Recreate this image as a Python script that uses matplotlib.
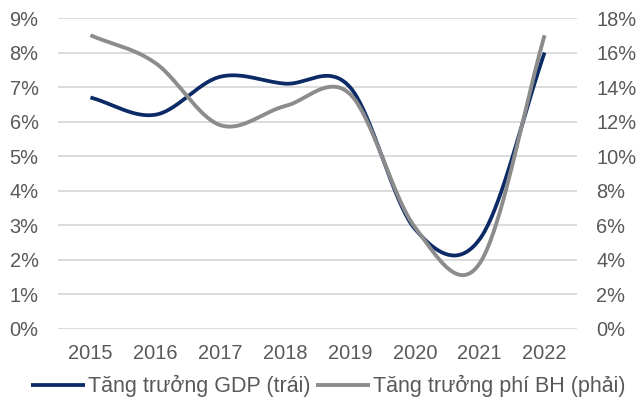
import matplotlib.pyplot as plt
import numpy as np

# Dữ liệu
nam = ['2015', '2016', '2017', '2018', '2019', '2020', '2021', '2022']
tang_truong_gdp = [6.7, 6.2, 7.3, 7.1, 7.0, 2.9, 2.6, 8.0]       # trục trái (%)
tang_truong_phi_bh = [17.0, 15.4, 11.8, 12.9, 13.6, 5.9, 3.8, 17.0]  # trục phải (%)

MAU_GDP = '#0B2A66'
MAU_BH = '#8C8C8C'
MAU_CHU = '#595959'


# Đường cong mượt kiểu Excel (Catmull-Rom) đi qua các điểm dữ liệu
def duong_muot(y, so_diem=40):
    y = np.asarray(y, dtype=float)
    n = len(y)
    m = np.empty(n)
    m[1:-1] = (y[2:] - y[:-2]) / 2
    m[0] = y[1] - y[0]
    m[-1] = y[-1] - y[-2]
    xs, ys = [], []
    t = np.linspace(0, 1, so_diem)
    h00 = 2 * t**3 - 3 * t**2 + 1
    h10 = t**3 - 2 * t**2 + t
    h01 = -2 * t**3 + 3 * t**2
    h11 = t**3 - t**2
    for i in range(n - 1):
        xs.append(i + t)
        ys.append(h00 * y[i] + h10 * m[i] + h01 * y[i + 1] + h11 * m[i + 1])
    return np.concatenate(xs), np.concatenate(ys)


plt.rcParams['font.family'] = ['Liberation Sans', 'DejaVu Sans']

fig = plt.figure(figsize=(6.4, 4.0), dpi=100)
ax = fig.add_axes([58 / 640, 1 - 329 / 400, (577 - 58) / 640, (329 - 18) / 400])
ax2 = ax.twinx()

x1, y1 = duong_muot(tang_truong_gdp)
x2, y2 = duong_muot(tang_truong_phi_bh)
l1, = ax.plot(x1, y1, color=MAU_GDP, lw=2.7, solid_capstyle='butt',
              label='Tăng trưởng GDP (trái)')
l2, = ax2.plot(x2, y2, color=MAU_BH, lw=2.8, solid_capstyle='butt',
               label='Tăng trưởng phí BH (phải)')

ax.set_xlim(-0.5, len(nam) - 0.5)
ax.set_ylim(0, 9)
ax2.set_ylim(0, 18)
ax.set_xticks(range(len(nam)))
ax.set_xticklabels(nam)
ax.set_yticks(range(0, 10))
ax.set_yticklabels([f'{v}%' for v in range(0, 10)])
ax2.set_yticks(range(0, 19, 2))
ax2.set_yticklabels([f'{v}%' for v in range(0, 19, 2)])

ax.grid(axis='y', color='#D9D9D9', lw=1.3)
ax.set_axisbelow(True)
for a in (ax, ax2):
    for s in a.spines.values():
        s.set_visible(False)
    a.tick_params(length=0, labelsize=14.4, colors=MAU_CHU)
ax.tick_params(axis='y', pad=14)
ax2.tick_params(axis='y', pad=14)
ax.tick_params(axis='x', pad=11)

fig.legend(handles=[l1, l2], loc='center', bbox_to_anchor=(0.5125, 1 - 386 / 400),
           ncol=2, frameon=False, fontsize=15.5, labelcolor=MAU_CHU,
           handlelength=2.5, handletextpad=0.14, columnspacing=0.25,
           borderaxespad=0, borderpad=0)

fig.savefig('out.png', dpi=100)
